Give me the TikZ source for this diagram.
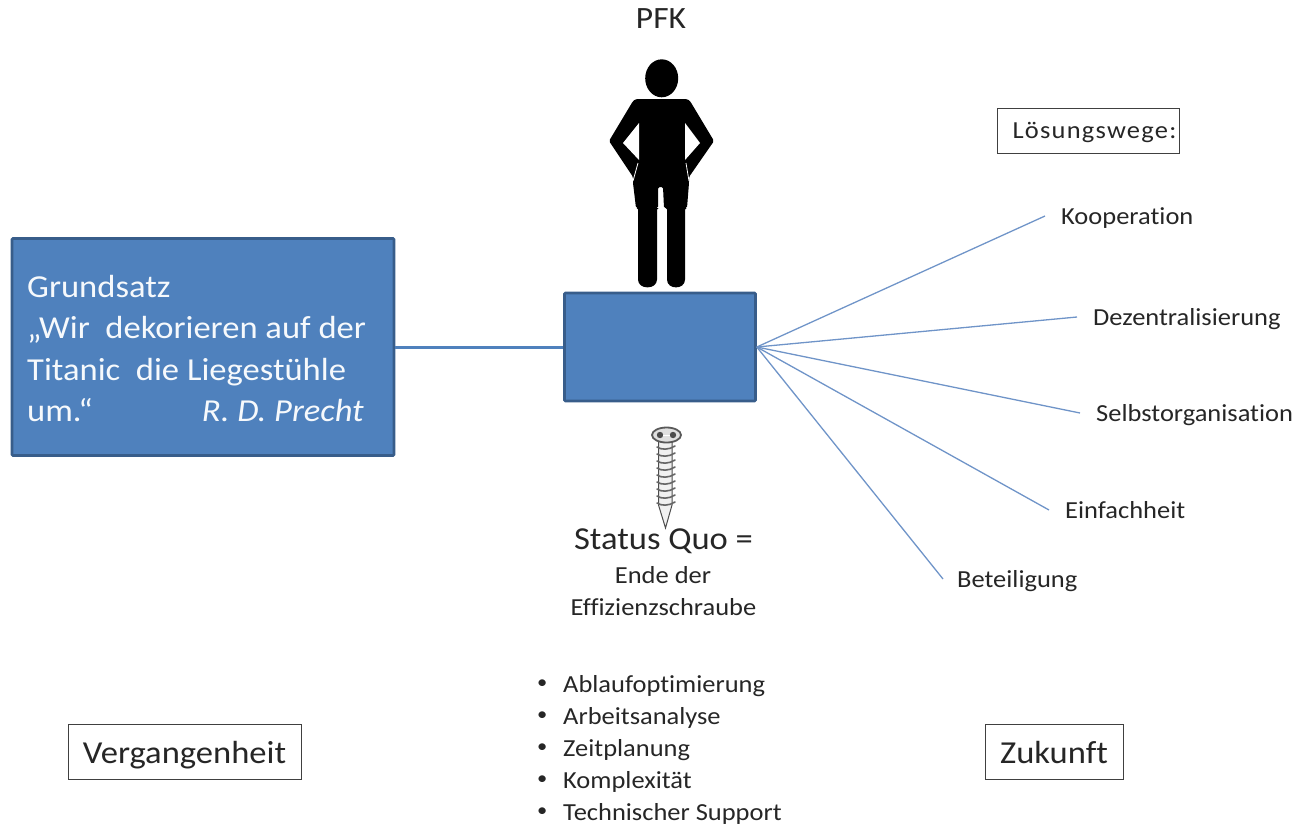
\documentclass[tikz,border=0pt]{standalone}
\usepackage{fontspec}
\setmainfont{Carlito}[FakeStretch=1.08,Ligatures=NoCommon]
\definecolor{fillblue}{HTML}{4F81BD}
\definecolor{edgeblue}{HTML}{385D8A}
\definecolor{lineblue}{HTML}{6F94C8}
\definecolor{txt}{HTML}{262626}
\tikzset{
  bluebox/.style={draw=edgeblue,fill=fillblue,line width=2.6pt,rounded corners=1pt,inner sep=0pt},
  framebox/.style={draw=black!75,line width=1pt,fill=white,inner sep=0pt,text=txt},
  ray/.style={draw=lineblue,line width=1.3pt},
  solution/.style={text=txt,font=\fontsize{24.5}{29}\selectfont,inner ysep=2pt,inner xsep=16pt,anchor=west,text height=20pt,text depth=3pt},
  listitem/.style={text=txt,font=\fontsize{24.5}{29}\selectfont,inner sep=0pt,anchor=west},
  plain/.style={text=txt,inner sep=0pt},
  quote/.style={anchor=base west,inner sep=0pt,text=white!95!fillblue,font=\fontsize{32}{38}\selectfont},
  thread/.style={draw=black!60,line width=1.6pt,line cap=round}
}
\begin{document}
\begin{tikzpicture}[x=1pt,y=-1pt]
\useasboundingbox (0,0) rectangle (1298,825);
% boxes
\node[bluebox,minimum width=382pt,minimum height=217pt] (grund) at (203,347) {};
\node[bluebox,minimum width=191pt,minimum height=108pt] (main) at (660,347) {};
\draw[draw=fillblue,line width=3pt] (grund.east) -- (main.west);
% Grundsatz text
\node[quote] (g1) at (27,297) {Grundsatz};
\node[quote] (g2) at (27,338) {„Wir\ \ dekorieren auf der};
\node[quote] (g3) at (27,380) {Titanic\ \ die Liegestühle};
\node[quote] (g4) at (27,421) {um.“};
\node[quote,anchor=base east,font=\fontsize{32}{38}\selectfont\itshape] (g5) at (364,421) {R. D. Precht};
% PFK
\node[plain,font=\fontsize{31}{36}\selectfont] (pfk) at (661,19) {PFK};
% person
\fill[black] (661.7,78.3) ellipse (16.5 and 19);
\fill[black,rounded corners=1.5pt] (636,99) -- (687,99) -- (690,101) -- (714,141) -- (689,177) -- (689,183) -- (687,208) -- (685,208) -- (685,278) .. controls (685,290) and (667,290) .. (667,278) -- (667,208) -- (664,208) -- (663,187) -- (658,187) -- (658,208) -- (657,208) -- (657,278) .. controls (657,290) and (638,290) .. (638,278) -- (638,208) -- (636,208) -- (633,183) -- (633,177) -- (609,141) -- (633,101) -- cycle;
\fill[white] (639,123) -- (639,160) -- (623,143) -- cycle;
\fill[white] (685,123) -- (685,160) -- (700,143) -- cycle;
\draw[white,line width=.8pt] (638,163) -- (633,181);
\draw[white,line width=.8pt] (686,163) -- (689,181);
% screw
\draw[black!70,fill=black!6,line width=1pt] (658.5,441) -- (658.5,505) -- (665.5,528) -- (672,505) -- (672,441) -- cycle;
\foreach \yy in {447,454,461,468,475,482,489,496,503}
  \draw[thread] (657,\yy) .. controls (661,\yy+3) and (669,\yy+3) .. (675,\yy-1);
\draw[black!65,fill=black!12,line width=1.8pt] (666.5,435) ellipse (14.5 and 7.5);
\fill[black!70] (660,435) circle (3.2);
\fill[black!70] (673,435) circle (3.2);
\draw[white,line width=.9pt] (663,435) -- (670,435);
% status
\node[plain,font=\fontsize{32}{37}\selectfont] (status) at (663.5,541) {Status Quo =};
\node[plain,font=\fontsize{24.5}{29}\selectfont] (ende) at (663,575) {Ende der};
\node[plain,font=\fontsize{24.5}{29}\selectfont] (effi) at (663.5,607) {Effizienzschraube};
% list
\foreach \n/\yy/\t in {a/686/Ablaufoptimierung,b/718/Arbeitsanalyse,c/750/Zeitplanung,d/782/Komplexität,e/814/Technischer Support}{
  \node[listitem,font=\fontsize{19}{23}\selectfont] (bul\n) at (537,\yy-2) {•};
  \node[listitem] (li\n) at (563,\yy) {\t};
}
% frames
\node[framebox,minimum width=182pt,minimum height=45pt,font=\fontsize{24.5}{29}\selectfont\addfontfeature{LetterSpace=5},text height=18pt,text depth=2pt] (loes) at (1088,130.5) {\hspace*{13pt}Lösungswege:};
\node[framebox,minimum width=233pt,minimum height=55pt,font=\fontsize{32}{38}\selectfont,text height=30pt,text depth=6pt] (verg) at (184.5,751.5) {Vergangenheit};
\node[framebox,minimum width=138pt,minimum height=55pt,font=\fontsize{32}{38}\selectfont,text height=30pt,text depth=6pt] (zuk) at (1054,751.5) {Zukunft};
% solutions
\node[solution] (s1) at (1045,216) {Kooperation};
\node[solution] (s2) at (1077,317) {Dezentralisierung};
\node[solution] (s3) at (1080,413) {Selbstorganisation};
\node[solution] (s4) at (1049,510) {Einfachheit};
\node[solution,inner xsep=14pt] (s5) at (943,579) {Beteiligung};
\foreach \k in {1,...,5} \draw[ray] (main.east) -- (s\k.west);
\end{tikzpicture}
\end{document}
